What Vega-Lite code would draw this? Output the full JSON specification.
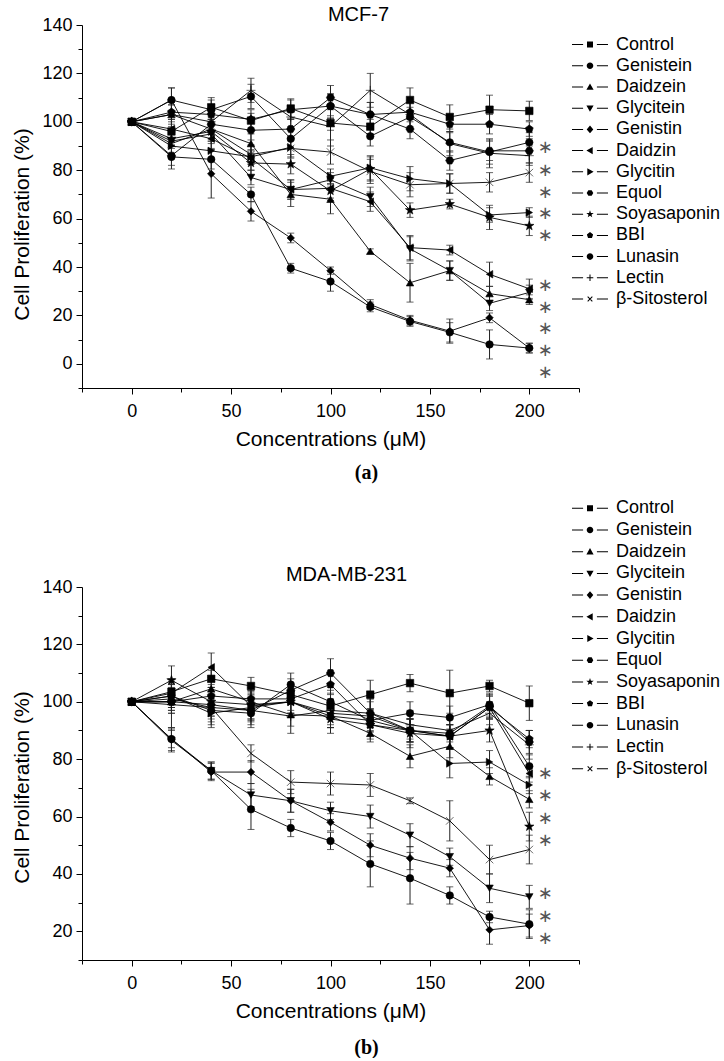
{
"$schema": "https://vega.github.io/schema/vega-lite/v6.json",
"padding": {"left": 11, "top": 4, "right": 0, "bottom": 0},
"config": {
  "font": "Liberation Sans",
  "view": {"stroke": null},
  "axis": {"domainColor": "black", "tickColor": "black", "labelColor": "black", "titleColor": "black", "labelFont": "Liberation Sans", "titleFont": "Liberation Sans", "labelFontSize": 18, "titleFontSize": 21, "titleFontWeight": "normal", "grid": false, "tickWidth": 1, "domainWidth": 1},
  "title": {"font": "Liberation Sans", "fontSize": 20, "fontWeight": "normal", "color": "black"}
},
"datasets": {
"a": [
{"s":"Control","x":0,"y":100,"e":0},{"s":"Control","x":20,"y":96,"e":4},{"s":"Control","x":40,"y":106,"e":4},{"s":"Control","x":60,"y":100.5,"e":3},{"s":"Control","x":80,"y":105.5,"e":4},{"s":"Control","x":100,"y":99.5,"e":3},{"s":"Control","x":120,"y":98,"e":3},{"s":"Control","x":140,"y":109,"e":5},{"s":"Control","x":160,"y":102,"e":5},{"s":"Control","x":180,"y":105,"e":6},{"s":"Control","x":200,"y":104.5,"e":4},
{"s":"Genistein","x":0,"y":100,"e":0},{"s":"Genistein","x":20,"y":85.5,"e":5},{"s":"Genistein","x":40,"y":84.5,"e":4},{"s":"Genistein","x":60,"y":70,"e":3},{"s":"Genistein","x":80,"y":39.5,"e":2},{"s":"Genistein","x":100,"y":34,"e":4},{"s":"Genistein","x":120,"y":23.5,"e":2},{"s":"Genistein","x":140,"y":17.5,"e":2},{"s":"Genistein","x":160,"y":13,"e":4},{"s":"Genistein","x":180,"y":8,"e":6},{"s":"Genistein","x":200,"y":6.5,"e":2},
{"s":"Daidzein","x":0,"y":100,"e":0},{"s":"Daidzein","x":20,"y":103,"e":4},{"s":"Daidzein","x":40,"y":97,"e":4},{"s":"Daidzein","x":60,"y":91,"e":4},{"s":"Daidzein","x":80,"y":70,"e":5},{"s":"Daidzein","x":100,"y":68,"e":6},{"s":"Daidzein","x":120,"y":46.5,"e":1},{"s":"Daidzein","x":140,"y":33.5,"e":8},{"s":"Daidzein","x":160,"y":38.5,"e":4},{"s":"Daidzein","x":180,"y":29,"e":3},{"s":"Daidzein","x":200,"y":26.5,"e":2},
{"s":"Glycitein","x":0,"y":100,"e":0},{"s":"Glycitein","x":20,"y":92,"e":3},{"s":"Glycitein","x":40,"y":95,"e":4},{"s":"Glycitein","x":60,"y":77,"e":3},{"s":"Glycitein","x":80,"y":72,"e":4},{"s":"Glycitein","x":100,"y":76,"e":3},{"s":"Glycitein","x":120,"y":69,"e":4},{"s":"Glycitein","x":140,"y":47.5,"e":5},{"s":"Glycitein","x":160,"y":38.5,"e":4},{"s":"Glycitein","x":180,"y":25,"e":3},{"s":"Glycitein","x":200,"y":29.5,"e":3},
{"s":"Genistin","x":0,"y":100,"e":0},{"s":"Genistin","x":20,"y":109,"e":5},{"s":"Genistin","x":40,"y":78.5,"e":10},{"s":"Genistin","x":60,"y":63,"e":4},{"s":"Genistin","x":80,"y":52,"e":2},{"s":"Genistin","x":100,"y":38.5,"e":1.5},{"s":"Genistin","x":120,"y":24.5,"e":2},{"s":"Genistin","x":140,"y":18,"e":2},{"s":"Genistin","x":160,"y":13.5,"e":5},{"s":"Genistin","x":180,"y":19,"e":2},{"s":"Genistin","x":200,"y":6.5,"e":2},
{"s":"Daidzin","x":0,"y":100,"e":0},{"s":"Daidzin","x":20,"y":97,"e":4},{"s":"Daidzin","x":40,"y":93,"e":4},{"s":"Daidzin","x":60,"y":85,"e":5},{"s":"Daidzin","x":80,"y":72,"e":4},{"s":"Daidzin","x":100,"y":72.5,"e":4},{"s":"Daidzin","x":120,"y":67,"e":4},{"s":"Daidzin","x":140,"y":48,"e":5},{"s":"Daidzin","x":160,"y":47,"e":2},{"s":"Daidzin","x":180,"y":37,"e":5},{"s":"Daidzin","x":200,"y":31,"e":4},
{"s":"Glycitin","x":0,"y":100,"e":0},{"s":"Glycitin","x":20,"y":90,"e":3},{"s":"Glycitin","x":40,"y":88,"e":4},{"s":"Glycitin","x":60,"y":85.5,"e":3},{"s":"Glycitin","x":80,"y":89.5,"e":4},{"s":"Glycitin","x":100,"y":77.5,"e":3},{"s":"Glycitin","x":120,"y":81,"e":5},{"s":"Glycitin","x":140,"y":76.5,"e":5},{"s":"Glycitin","x":160,"y":74.5,"e":4},{"s":"Glycitin","x":180,"y":61.5,"e":3},{"s":"Glycitin","x":200,"y":62.5,"e":2},
{"s":"Equol","x":0,"y":100,"e":0},{"s":"Equol","x":20,"y":86,"e":4},{"s":"Equol","x":40,"y":99,"e":4},{"s":"Equol","x":60,"y":96.5,"e":4},{"s":"Equol","x":80,"y":97,"e":4},{"s":"Equol","x":100,"y":110,"e":5},{"s":"Equol","x":120,"y":103,"e":5},{"s":"Equol","x":140,"y":97,"e":4},{"s":"Equol","x":160,"y":84,"e":4},{"s":"Equol","x":180,"y":88,"e":4},{"s":"Equol","x":200,"y":88,"e":5},
{"s":"Soyasaponin","x":0,"y":100,"e":0},{"s":"Soyasaponin","x":20,"y":93,"e":3},{"s":"Soyasaponin","x":40,"y":96,"e":4},{"s":"Soyasaponin","x":60,"y":83,"e":5},{"s":"Soyasaponin","x":80,"y":82.5,"e":4},{"s":"Soyasaponin","x":100,"y":71.5,"e":4},{"s":"Soyasaponin","x":120,"y":80.5,"e":5},{"s":"Soyasaponin","x":140,"y":63.5,"e":3},{"s":"Soyasaponin","x":160,"y":66,"e":2},{"s":"Soyasaponin","x":180,"y":60.5,"e":5},{"s":"Soyasaponin","x":200,"y":57,"e":4},
{"s":"BBI","x":0,"y":100,"e":0},{"s":"BBI","x":20,"y":104,"e":3},{"s":"BBI","x":40,"y":103,"e":4},{"s":"BBI","x":60,"y":101,"e":4},{"s":"BBI","x":80,"y":105,"e":4},{"s":"BBI","x":100,"y":106.5,"e":5},{"s":"BBI","x":120,"y":103,"e":5},{"s":"BBI","x":140,"y":104,"e":4},{"s":"BBI","x":160,"y":99,"e":3},{"s":"BBI","x":180,"y":99,"e":4},{"s":"BBI","x":200,"y":97,"e":3},
{"s":"Lunasin","x":0,"y":100,"e":0},{"s":"Lunasin","x":20,"y":109,"e":5},{"s":"Lunasin","x":40,"y":105,"e":4},{"s":"Lunasin","x":60,"y":110.5,"e":5},{"s":"Lunasin","x":80,"y":93,"e":4},{"s":"Lunasin","x":100,"y":106.5,"e":5},{"s":"Lunasin","x":120,"y":94,"e":4},{"s":"Lunasin","x":140,"y":102,"e":4},{"s":"Lunasin","x":160,"y":91.5,"e":4},{"s":"Lunasin","x":180,"y":87.5,"e":5},{"s":"Lunasin","x":200,"y":91.5,"e":4},
{"s":"Lectin","x":0,"y":100,"e":0},{"s":"Lectin","x":20,"y":103,"e":5},{"s":"Lectin","x":40,"y":100,"e":5},{"s":"Lectin","x":60,"y":113,"e":5},{"s":"Lectin","x":80,"y":102,"e":4},{"s":"Lectin","x":100,"y":98,"e":8},{"s":"Lectin","x":120,"y":113,"e":7},{"s":"Lectin","x":140,"y":103,"e":6},{"s":"Lectin","x":160,"y":91,"e":5},{"s":"Lectin","x":180,"y":87,"e":6},{"s":"Lectin","x":200,"y":86,"e":4},
{"s":"β-Sitosterol","x":0,"y":100,"e":0},{"s":"β-Sitosterol","x":20,"y":91,"e":4},{"s":"β-Sitosterol","x":40,"y":97,"e":4},{"s":"β-Sitosterol","x":60,"y":86.5,"e":4},{"s":"β-Sitosterol","x":80,"y":89,"e":4},{"s":"β-Sitosterol","x":100,"y":87.5,"e":5},{"s":"β-Sitosterol","x":120,"y":79.5,"e":5},{"s":"β-Sitosterol","x":140,"y":74,"e":5},{"s":"β-Sitosterol","x":160,"y":74.5,"e":4},{"s":"β-Sitosterol","x":180,"y":75,"e":4},{"s":"β-Sitosterol","x":200,"y":79,"e":4}
],
"b": [
{"s":"Control","x":0,"y":100,"e":0},{"s":"Control","x":20,"y":103.5,"e":3},{"s":"Control","x":40,"y":108,"e":3},{"s":"Control","x":60,"y":105.5,"e":3},{"s":"Control","x":80,"y":102.5,"e":3},{"s":"Control","x":100,"y":98.5,"e":4},{"s":"Control","x":120,"y":102.5,"e":5},{"s":"Control","x":140,"y":106.5,"e":3},{"s":"Control","x":160,"y":103,"e":8},{"s":"Control","x":180,"y":105.5,"e":2},{"s":"Control","x":200,"y":99.5,"e":6},
{"s":"Genistein","x":0,"y":100,"e":0},{"s":"Genistein","x":20,"y":87,"e":3},{"s":"Genistein","x":40,"y":76,"e":3},{"s":"Genistein","x":60,"y":62.5,"e":7},{"s":"Genistein","x":80,"y":56,"e":3},{"s":"Genistein","x":100,"y":51.5,"e":3},{"s":"Genistein","x":120,"y":43.5,"e":8},{"s":"Genistein","x":140,"y":38.5,"e":9},{"s":"Genistein","x":160,"y":32.5,"e":3},{"s":"Genistein","x":180,"y":25,"e":2},{"s":"Genistein","x":200,"y":22.5,"e":5},
{"s":"Daidzein","x":0,"y":100,"e":0},{"s":"Daidzein","x":20,"y":100,"e":3},{"s":"Daidzein","x":40,"y":104.5,"e":4},{"s":"Daidzein","x":60,"y":100,"e":4},{"s":"Daidzein","x":80,"y":95.5,"e":4},{"s":"Daidzein","x":100,"y":95,"e":4},{"s":"Daidzein","x":120,"y":89,"e":3},{"s":"Daidzein","x":140,"y":81,"e":4},{"s":"Daidzein","x":160,"y":84.5,"e":4},{"s":"Daidzein","x":180,"y":74,"e":3},{"s":"Daidzein","x":200,"y":66,"e":3},
{"s":"Glycitein","x":0,"y":100,"e":0},{"s":"Glycitein","x":20,"y":86.5,"e":4},{"s":"Glycitein","x":40,"y":76,"e":3},{"s":"Glycitein","x":60,"y":67.5,"e":4},{"s":"Glycitein","x":80,"y":65.5,"e":4},{"s":"Glycitein","x":100,"y":62,"e":3},{"s":"Glycitein","x":120,"y":60,"e":4},{"s":"Glycitein","x":140,"y":53.5,"e":4},{"s":"Glycitein","x":160,"y":46,"e":3},{"s":"Glycitein","x":180,"y":35,"e":5},{"s":"Glycitein","x":200,"y":32,"e":4},
{"s":"Genistin","x":0,"y":100,"e":0},{"s":"Genistin","x":20,"y":87,"e":4},{"s":"Genistin","x":40,"y":75.5,"e":3},{"s":"Genistin","x":60,"y":75.5,"e":4},{"s":"Genistin","x":80,"y":65.5,"e":4},{"s":"Genistin","x":100,"y":58,"e":3},{"s":"Genistin","x":120,"y":50,"e":4},{"s":"Genistin","x":140,"y":45.5,"e":4},{"s":"Genistin","x":160,"y":42,"e":3},{"s":"Genistin","x":180,"y":20.5,"e":5},{"s":"Genistin","x":200,"y":22,"e":4},
{"s":"Daidzin","x":0,"y":100,"e":0},{"s":"Daidzin","x":20,"y":103,"e":5},{"s":"Daidzin","x":40,"y":112,"e":5},{"s":"Daidzin","x":60,"y":98.5,"e":5},{"s":"Daidzin","x":80,"y":100,"e":4},{"s":"Daidzin","x":100,"y":96,"e":4},{"s":"Daidzin","x":120,"y":95,"e":5},{"s":"Daidzin","x":140,"y":90,"e":4},{"s":"Daidzin","x":160,"y":88,"e":4},{"s":"Daidzin","x":180,"y":98,"e":4},{"s":"Daidzin","x":200,"y":75,"e":3},
{"s":"Glycitin","x":0,"y":100,"e":0},{"s":"Glycitin","x":20,"y":102,"e":4},{"s":"Glycitin","x":40,"y":96,"e":4},{"s":"Glycitin","x":60,"y":98,"e":4},{"s":"Glycitin","x":80,"y":100,"e":4},{"s":"Glycitin","x":100,"y":95,"e":4},{"s":"Glycitin","x":120,"y":93.5,"e":4},{"s":"Glycitin","x":140,"y":90,"e":4},{"s":"Glycitin","x":160,"y":78.5,"e":5},{"s":"Glycitin","x":180,"y":79,"e":4},{"s":"Glycitin","x":200,"y":71,"e":3},
{"s":"Equol","x":0,"y":100,"e":0},{"s":"Equol","x":20,"y":100,"e":4},{"s":"Equol","x":40,"y":99,"e":4},{"s":"Equol","x":60,"y":97,"e":4},{"s":"Equol","x":80,"y":104,"e":4},{"s":"Equol","x":100,"y":110,"e":5},{"s":"Equol","x":120,"y":96,"e":5},{"s":"Equol","x":140,"y":90,"e":4},{"s":"Equol","x":160,"y":89,"e":3},{"s":"Equol","x":180,"y":98.5,"e":4},{"s":"Equol","x":200,"y":86,"e":4},
{"s":"Soyasaponin","x":0,"y":100,"e":0},{"s":"Soyasaponin","x":20,"y":107.5,"e":5},{"s":"Soyasaponin","x":40,"y":100,"e":5},{"s":"Soyasaponin","x":60,"y":99,"e":5},{"s":"Soyasaponin","x":80,"y":100,"e":4},{"s":"Soyasaponin","x":100,"y":94,"e":5},{"s":"Soyasaponin","x":120,"y":92,"e":5},{"s":"Soyasaponin","x":140,"y":89,"e":5},{"s":"Soyasaponin","x":160,"y":88,"e":4},{"s":"Soyasaponin","x":180,"y":90,"e":4},{"s":"Soyasaponin","x":200,"y":56.5,"e":5},
{"s":"BBI","x":0,"y":100,"e":0},{"s":"BBI","x":20,"y":100,"e":4},{"s":"BBI","x":40,"y":102,"e":4},{"s":"BBI","x":60,"y":101,"e":4},{"s":"BBI","x":80,"y":101,"e":4},{"s":"BBI","x":100,"y":106,"e":5},{"s":"BBI","x":120,"y":92,"e":4},{"s":"BBI","x":140,"y":90,"e":4},{"s":"BBI","x":160,"y":88,"e":4},{"s":"BBI","x":180,"y":98,"e":4},{"s":"BBI","x":200,"y":87,"e":3},
{"s":"Lunasin","x":0,"y":100,"e":0},{"s":"Lunasin","x":20,"y":102,"e":4},{"s":"Lunasin","x":40,"y":97,"e":4},{"s":"Lunasin","x":60,"y":96,"e":4},{"s":"Lunasin","x":80,"y":106,"e":4},{"s":"Lunasin","x":100,"y":100,"e":4},{"s":"Lunasin","x":120,"y":93.5,"e":4},{"s":"Lunasin","x":140,"y":96,"e":4},{"s":"Lunasin","x":160,"y":94.5,"e":4},{"s":"Lunasin","x":180,"y":99,"e":4},{"s":"Lunasin","x":200,"y":77.5,"e":4},
{"s":"Lectin","x":0,"y":100,"e":0},{"s":"Lectin","x":20,"y":99,"e":8},{"s":"Lectin","x":40,"y":98,"e":7},{"s":"Lectin","x":60,"y":97,"e":6},{"s":"Lectin","x":80,"y":95,"e":6},{"s":"Lectin","x":100,"y":97,"e":6},{"s":"Lectin","x":120,"y":96,"e":5},{"s":"Lectin","x":140,"y":92,"e":5},{"s":"Lectin","x":160,"y":90,"e":6},{"s":"Lectin","x":180,"y":96,"e":4},{"s":"Lectin","x":200,"y":85,"e":5},
{"s":"β-Sitosterol","x":0,"y":100,"e":0},{"s":"β-Sitosterol","x":20,"y":101,"e":4},{"s":"β-Sitosterol","x":40,"y":98,"e":4},{"s":"β-Sitosterol","x":60,"y":82,"e":3},{"s":"β-Sitosterol","x":80,"y":72,"e":4},{"s":"β-Sitosterol","x":100,"y":71.5,"e":4},{"s":"β-Sitosterol","x":120,"y":71,"e":4},{"s":"β-Sitosterol","x":140,"y":65.5,"e":1},{"s":"β-Sitosterol","x":160,"y":58.5,"e":7},{"s":"β-Sitosterol","x":180,"y":45,"e":5},{"s":"β-Sitosterol","x":200,"y":48.5,"e":5}
],
"sa": [{"x":208,"y":89.4},{"x":208,"y":80.2},{"x":208,"y":71.1},{"x":208,"y":62.4},{"x":208,"y":53.3},{"x":208,"y":32.6},{"x":208,"y":23.6},{"x":208,"y":14.7},{"x":208,"y":5.7},{"x":208,"y":-3.3}],
"sb": [{"x":208,"y":75.1},{"x":208,"y":67.4},{"x":208,"y":59.5},{"x":208,"y":51.7},{"x":208,"y":33.3},{"x":208,"y":25.5},{"x":208,"y":17.8}]
},
"spacing": 16,
"vconcat": [
{
  "title": {"text": "(a)", "orient": "bottom", "font": "Liberation Serif", "fontWeight": "bold", "fontSize": 20, "anchor": "middle", "offset": 14},
  "vconcat": [{
    "width": 497, "height": 363,
    "title": {"text": "MCF-7", "frame": "group", "anchor": "middle", "dx": 28, "offset": -8.6},
    "encoding": {
      "x": {"field": "x", "type": "quantitative", "scale": {"domain": [-25, 225], "nice": false, "zero": false},
        "axis": {"title": "Concentrations (μM)", "values": [-25,0,25,50,75,100,125,150,175,200,225], "labelExpr": "datum.value % 50 === 0 ? datum.label : ''", "tickSize": {"condition": {"test": "datum.value % 50 === 0", "value": 6}, "value": 4}, "labelPadding": 8, "titlePadding": 8, "labelOverlap": false, "labelFlush": false}},
      "y": {"field": "y", "type": "quantitative", "scale": {"domain": [-10, 140], "nice": false, "zero": false},
        "axis": {"title": "Cell Proliferation (%)", "values": [-10,0,10,20,30,40,50,60,70,80,90,100,110,120,130,140], "labelExpr": "datum.value % 20 === 0 ? datum.label : ''", "tickSize": {"condition": {"test": "datum.value % 20 === 0", "value": 6}, "value": 4}, "labelPadding": 4, "titlePadding": 9, "titleY": 199, "labelOverlap": false}}
    },
    "layer": [
      {"data": {"name": "a"}, "mark": {"type": "line", "color": "black", "strokeWidth": 0.9}, "encoding": {"detail": {"field": "s"}}},
      {"data": {"name": "a"}, "mark": {"type": "errorbar", "color": "#222", "thickness": 1, "ticks": {"size": 7, "thickness": 1}}, "encoding": {"yError": {"field": "e"}}},
      {"data": {"name": "a"}, "mark": {"type": "point", "filled": true, "fill": "black", "stroke": "black", "strokeWidth": 0.6, "size": 56, "opacity": 1},
        "encoding": {"shape": {"field": "s", "legend": null, "scale": {
          "domain": ["Control","Genistein","Daidzein","Glycitein","Genistin","Daidzin","Glycitin","Equol","Soyasaponin","BBI","Lunasin","Lectin","β-Sitosterol"],
          "range": ["square","circle","triangle-up","triangle-down","diamond","triangle-left","triangle-right",
            "M-1.1,0L-0.55,-0.95L0.55,-0.95L1.1,0L0.55,0.95L-0.55,0.95Z",
            "M0,-1.3L0.31,-0.42L1.24,-0.4L0.49,0.16L0.76,1.05L0,0.52L-0.76,1.05L-0.49,0.16L-1.24,-0.4L-0.31,-0.42Z",
            "M0,-1.1L1.05,-0.34L0.65,0.89L-0.65,0.89L-1.05,-0.34Z",
            "circle",
            "M-1.2,0H1.2M0,-1.2V1.2",
            "M-1,-1L1,1M-1,1L1,-1"]}}}},
      {"data": {"name": "a"}, "mark": {"type": "point", "filled": true, "fill": "black", "stroke": "black", "strokeWidth": 1, "opacity": 0},
        "encoding": {"shape": {"field": "s", "scale": {
          "domain": ["Control","Genistein","Daidzein","Glycitein","Genistin","Daidzin","Glycitin","Equol","Soyasaponin","BBI","Lunasin","Lectin","β-Sitosterol"],
          "range": [
            "M-6,-0.17H-2.3V0.17H-6ZM2.3,-0.17H6V0.17H2.3ZM-1,-1H1V1H-1Z",
            "M-6,-0.17H-2.3V0.17H-6ZM2.3,-0.17H6V0.17H2.3ZM-1.1,0A1.1,1.1,0,1,1,1.1,0A1.1,1.1,0,1,1,-1.1,0Z",
            "M-6,-0.17H-2.3V0.17H-6ZM2.3,-0.17H6V0.17H2.3ZM0,-1.2L1.2,0.9H-1.2Z",
            "M-6,-0.17H-2.3V0.17H-6ZM2.3,-0.17H6V0.17H2.3ZM0,1.2L1.2,-0.9H-1.2Z",
            "M-6,-0.17H-2.3V0.17H-6ZM2.3,-0.17H6V0.17H2.3ZM0,-1.3L1.1,0L0,1.3L-1.1,0Z",
            "M-6,-0.17H-2.3V0.17H-6ZM2.3,-0.17H6V0.17H2.3ZM-1.2,0L0.9,-1.2V1.2Z",
            "M-6,-0.17H-2.3V0.17H-6ZM2.3,-0.17H6V0.17H2.3ZM1.2,0L-0.9,-1.2V1.2Z",
            "M-6,-0.17H-2.3V0.17H-6ZM2.3,-0.17H6V0.17H2.3ZM-1.1,0L-0.55,-0.95L0.55,-0.95L1.1,0L0.55,0.95L-0.55,0.95Z",
            "M-6,-0.17H-2.3V0.17H-6ZM2.3,-0.17H6V0.17H2.3ZM0,-1.3L0.31,-0.42L1.24,-0.4L0.49,0.16L0.76,1.05L0,0.52L-0.76,1.05L-0.49,0.16L-1.24,-0.4L-0.31,-0.42Z",
            "M-6,-0.17H-2.3V0.17H-6ZM2.3,-0.17H6V0.17H2.3ZM0,-1.1L1.05,-0.34L0.65,0.89L-0.65,0.89L-1.05,-0.34Z",
            "M-6,-0.17H-2.3V0.17H-6ZM2.3,-0.17H6V0.17H2.3ZM-1.1,0A1.1,1.1,0,1,1,1.1,0A1.1,1.1,0,1,1,-1.1,0Z",
            "M-6,-0.17H-2.3V0.17H-6ZM2.3,-0.17H6V0.17H2.3ZM-1.1,-0.17H1.1V0.17H-1.1ZM-0.17,-1.1H0.17V1.1H-0.17Z",
            "M-6,-0.17H-2.3V0.17H-6ZM2.3,-0.17H6V0.17H2.3ZM-0.9,-0.66L0.66,0.9L0.9,0.66L-0.66,-0.9ZM-0.9,0.66L-0.66,0.9L0.9,-0.66L0.66,-0.9Z"]},
          "legend": {"orient": "none", "legendX": 499, "legendY": 10.6, "title": null, "labelFontSize": 18, "labelFont": "Liberation Sans", "labelColor": "black", "symbolSize": 36, "symbolFillColor": "black", "symbolStrokeColor": "black", "symbolStrokeWidth": 0, "symbolOpacity": 1, "labelOffset": 17, "rowPadding": 3.2, "padding": 0}}}},
      {"data": {"name": "sa"}, "mark": {"type": "text", "text": "∗", "font": "DejaVu Sans", "fontSize": 18, "color": "#555", "baseline": "middle", "dy": 1}}
    ],
    "resolve": {"scale": {"shape": "independent"}}
  }]
},
{
  "title": {"text": "(b)", "orient": "bottom", "font": "Liberation Serif", "fontWeight": "bold", "fontSize": 20, "anchor": "middle", "offset": 17},
  "vconcat": [{
    "width": 497, "height": 373,
    "title": {"text": "MDA-MB-231", "frame": "group", "anchor": "middle", "dx": 16, "offset": -86},
    "encoding": {
      "x": {"field": "x", "type": "quantitative", "scale": {"domain": [-25, 225], "nice": false, "zero": false},
        "axis": {"title": "Concentrations (μM)", "values": [-25,0,25,50,75,100,125,150,175,200,225], "labelExpr": "datum.value % 50 === 0 ? datum.label : ''", "tickSize": {"condition": {"test": "datum.value % 50 === 0", "value": 6}, "value": 4}, "labelPadding": 8, "titlePadding": 8, "labelOverlap": false, "labelFlush": false}},
      "y": {"field": "y", "type": "quantitative", "scale": {"domain": [10, 140], "nice": false, "zero": false},
        "axis": {"title": "Cell Proliferation (%)", "values": [10,20,30,40,50,60,70,80,90,100,110,120,130,140], "labelExpr": "datum.value % 20 === 0 ? datum.label : ''", "tickSize": {"condition": {"test": "datum.value % 20 === 0", "value": 6}, "value": 4}, "labelPadding": 4, "titlePadding": 9, "titleY": 200, "labelOverlap": false}}
    },
    "layer": [
      {"data": {"name": "b"}, "mark": {"type": "line", "color": "black", "strokeWidth": 0.9}, "encoding": {"detail": {"field": "s"}}},
      {"data": {"name": "b"}, "mark": {"type": "errorbar", "color": "#222", "thickness": 1, "ticks": {"size": 7, "thickness": 1}}, "encoding": {"yError": {"field": "e"}}},
      {"data": {"name": "b"}, "mark": {"type": "point", "filled": true, "fill": "black", "stroke": "black", "strokeWidth": 0.6, "size": 56, "opacity": 1},
        "encoding": {"shape": {"field": "s", "legend": null, "scale": {
          "domain": ["Control","Genistein","Daidzein","Glycitein","Genistin","Daidzin","Glycitin","Equol","Soyasaponin","BBI","Lunasin","Lectin","β-Sitosterol"],
          "range": ["square","circle","triangle-up","triangle-down","diamond","triangle-left","triangle-right",
            "M-1.1,0L-0.55,-0.95L0.55,-0.95L1.1,0L0.55,0.95L-0.55,0.95Z",
            "M0,-1.3L0.31,-0.42L1.24,-0.4L0.49,0.16L0.76,1.05L0,0.52L-0.76,1.05L-0.49,0.16L-1.24,-0.4L-0.31,-0.42Z",
            "M0,-1.1L1.05,-0.34L0.65,0.89L-0.65,0.89L-1.05,-0.34Z",
            "circle",
            "M-1.2,0H1.2M0,-1.2V1.2",
            "M-1,-1L1,1M-1,1L1,-1"]}}}},
      {"data": {"name": "b"}, "mark": {"type": "point", "filled": true, "fill": "black", "stroke": "black", "strokeWidth": 1, "opacity": 0},
        "encoding": {"shape": {"field": "s", "scale": {
          "domain": ["Control","Genistein","Daidzein","Glycitein","Genistin","Daidzin","Glycitin","Equol","Soyasaponin","BBI","Lunasin","Lectin","β-Sitosterol"],
          "range": [
            "M-6,-0.17H-2.3V0.17H-6ZM2.3,-0.17H6V0.17H2.3ZM-1,-1H1V1H-1Z",
            "M-6,-0.17H-2.3V0.17H-6ZM2.3,-0.17H6V0.17H2.3ZM-1.1,0A1.1,1.1,0,1,1,1.1,0A1.1,1.1,0,1,1,-1.1,0Z",
            "M-6,-0.17H-2.3V0.17H-6ZM2.3,-0.17H6V0.17H2.3ZM0,-1.2L1.2,0.9H-1.2Z",
            "M-6,-0.17H-2.3V0.17H-6ZM2.3,-0.17H6V0.17H2.3ZM0,1.2L1.2,-0.9H-1.2Z",
            "M-6,-0.17H-2.3V0.17H-6ZM2.3,-0.17H6V0.17H2.3ZM0,-1.3L1.1,0L0,1.3L-1.1,0Z",
            "M-6,-0.17H-2.3V0.17H-6ZM2.3,-0.17H6V0.17H2.3ZM-1.2,0L0.9,-1.2V1.2Z",
            "M-6,-0.17H-2.3V0.17H-6ZM2.3,-0.17H6V0.17H2.3ZM1.2,0L-0.9,-1.2V1.2Z",
            "M-6,-0.17H-2.3V0.17H-6ZM2.3,-0.17H6V0.17H2.3ZM-1.1,0L-0.55,-0.95L0.55,-0.95L1.1,0L0.55,0.95L-0.55,0.95Z",
            "M-6,-0.17H-2.3V0.17H-6ZM2.3,-0.17H6V0.17H2.3ZM0,-1.3L0.31,-0.42L1.24,-0.4L0.49,0.16L0.76,1.05L0,0.52L-0.76,1.05L-0.49,0.16L-1.24,-0.4L-0.31,-0.42Z",
            "M-6,-0.17H-2.3V0.17H-6ZM2.3,-0.17H6V0.17H2.3ZM0,-1.1L1.05,-0.34L0.65,0.89L-0.65,0.89L-1.05,-0.34Z",
            "M-6,-0.17H-2.3V0.17H-6ZM2.3,-0.17H6V0.17H2.3ZM-1.1,0A1.1,1.1,0,1,1,1.1,0A1.1,1.1,0,1,1,-1.1,0Z",
            "M-6,-0.17H-2.3V0.17H-6ZM2.3,-0.17H6V0.17H2.3ZM-1.1,-0.17H1.1V0.17H-1.1ZM-0.17,-1.1H0.17V1.1H-0.17Z",
            "M-6,-0.17H-2.3V0.17H-6ZM2.3,-0.17H6V0.17H2.3ZM-0.9,-0.66L0.66,0.9L0.9,0.66L-0.66,-0.9ZM-0.9,0.66L-0.66,0.9L0.9,-0.66L0.66,-0.9Z"]},
          "legend": {"orient": "none", "legendX": 499, "legendY": -87.7, "title": null, "labelFontSize": 18, "labelFont": "Liberation Sans", "labelColor": "black", "symbolSize": 36, "symbolFillColor": "black", "symbolStrokeColor": "black", "symbolStrokeWidth": 0, "symbolOpacity": 1, "labelOffset": 17, "rowPadding": 3.7, "padding": 0}}}},
      {"data": {"name": "sb"}, "mark": {"type": "text", "text": "∗", "font": "DejaVu Sans", "fontSize": 18, "color": "#555", "baseline": "middle", "dy": 1}}
    ],
    "resolve": {"scale": {"shape": "independent"}}
  }]
}
]
}
